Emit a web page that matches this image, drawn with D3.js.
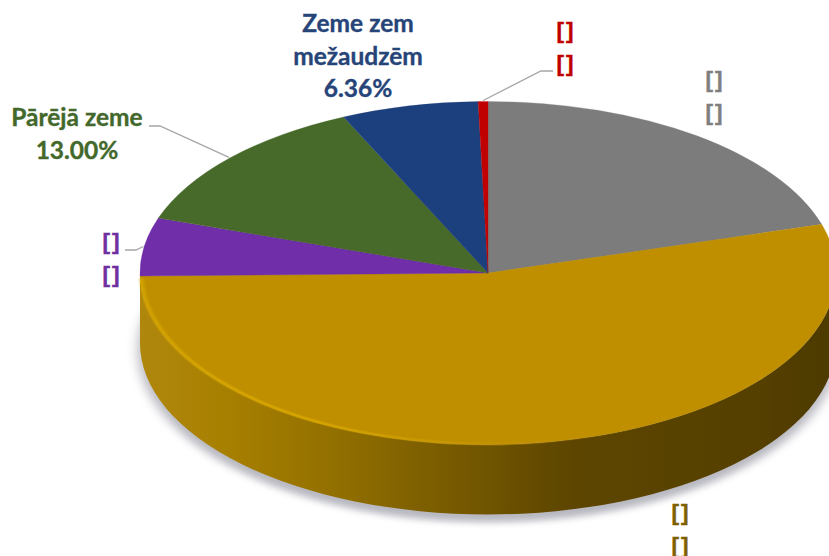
<!DOCTYPE html>
<html><head><meta charset="utf-8">
<script src="https://cdn.jsdelivr.net/npm/d3@7/dist/d3.min.js"></script>
<style>html,body{margin:0;padding:0;background:#fff;overflow:hidden}svg{display:block}text{font-family:Lato,"Open Sans",sans-serif;font-weight:700;font-size:24.5px;text-anchor:middle;stroke-width:.35px}text.br{font-family:"Liberation Sans",sans-serif;font-size:22.5px;stroke-width:.45px;letter-spacing:2px}</style>
</head><body><svg id="c" width="829" height="556"></svg>
<script>
const categories = ["[]", "[]", "[]", "Pārējā zeme", "Zeme zem mežaudzēm", "[]"];
const values = [20.42, 54.3, 5.47, 13.0, 6.36, 0.45];
const valueLabels = ["[]", "[]", "[]", "13.00%", "6.36%", "[]"];
const sliceColors = ["#7c7c7c", "#bf8f00", "#6f2da8", "#476b2a", "#1f3f7d", "#c00000"];
const textColors = ["#7f7f7f", "#7f6000", "#7030a0", "#43682b", "#264478", "#c00000"];

const cx = 488, cy = 273, rx = 348, ry = 171.5, depth = 70;
const svg = d3.select("#c"), defs = svg.append("defs");
const yS = ry / rx;

const blur = (id, s) => defs.append("filter").attr("id", id)
  .attr("x", "-10%").attr("y", "-10%").attr("width", "120%").attr("height", "130%")
  .append("feGaussianBlur").attr("stdDeviation", s);
blur("shadow", 6); blur("soft", 0.5); blur("glow", 1.6);

const hGrad = (id, stops) => {
  const g = defs.append("linearGradient").attr("id", id).attr("gradientUnits", "userSpaceOnUse")
    .attr("x1", -rx).attr("x2", rx).attr("y1", 0).attr("y2", 0);
  stops.forEach(([o, c, a]) => g.append("stop").attr("offset", o).attr("stop-color", c).attr("stop-opacity", a === undefined ? 1 : a));
};
hGrad("rim", [[0, "#b08707"], [0.12, "#a88006"], [0.3, "#8f6d01"], [0.45, "#775a00"], [0.62, "#5d4500"], [0.85, "#574100"], [1, "#4d3a00"]]);
hGrad("hl", [[0, "#d8a703"], [0.25, "#d6a403"], [0.45, "#cc9a02", 0.6], [0.62, "#c49300", 0.2], [0.75, "#bf8f00", 0]]);

const pie = d3.pie().sort(null).value(d => d)(values);
const arc = d3.arc().innerRadius(0).outerRadius(rx);
const root = svg.append("g").attr("transform", `translate(${cx},${cy}) scale(1,${yS})`);

const d = depth / yS;
const rimPath = () => {
  const p = d3.path();
  p.moveTo(-rx, 0); p.lineTo(-rx, d);
  p.arc(0, d, rx, Math.PI, 0, true);
  p.lineTo(rx, 0);
  p.arc(0, 0, rx, 0, Math.PI, false);
  p.closePath();
  return p.toString();
};
// soft shadow beneath the rim
const sh = d3.path(); sh.arc(0, d + 14, rx + 2, 0, 2 * Math.PI);
root.append("path").attr("d", sh.toString()).attr("fill", "#9a9aa6").attr("opacity", 0.7).attr("filter", "url(#shadow)");

const body = root.append("g").attr("filter", "url(#soft)");
body.append("path").attr("d", rimPath()).attr("fill", "url(#rim)");
body.selectAll("path.slice").data(pie).join("path").attr("class", "slice")
  .attr("d", arc).attr("fill", (s, i) => sliceColors[i]).attr("stroke", (s, i) => sliceColors[i]).attr("stroke-width", 0.4);

// highlight along the front edge of the top face
const hl = d3.path(); hl.arc(0, 0, rx - 1.5, Math.PI * 0.99, Math.PI * 0.2, true);
root.append("path").attr("d", hl.toString()).attr("fill", "none").attr("stroke", "url(#hl)")
  .attr("stroke-width", 3).attr("vector-effect", "non-scaling-stroke").attr("filter", "url(#glow)");

// labels: slice index, centre x, first baseline, text lines
const place = [
  { i: 0, x: 715, y: 87, lines: [categories[0], valueLabels[0]] },
  { i: 1, x: 681, y: 520, lines: [categories[1], valueLabels[1]] },
  { i: 2, x: 112, y: 249, lines: [categories[2], valueLabels[2]], elbow: [136, 250], end: [125, 250] },
  { i: 3, x: 77, y: 126, lines: [categories[3], valueLabels[3]], elbow: [160, 126], end: [149, 126] },
  { i: 4, x: 358, y: 32, lines: ["Zeme zem", "mežaudzēm", valueLabels[4]] },
  { i: 5, x: 566, y: 38, lines: [categories[5], valueLabels[5]], elbow: [541, 71], end: [553, 71] }
];

const leader = d3.line();
place.filter(l => l.elbow).forEach(l => {
  const a = (pie[l.i].startAngle + pie[l.i].endAngle) / 2;
  const tip = [cx + (rx + 1) * Math.sin(a), cy - (ry + 1) * Math.cos(a)];
  svg.append("path").attr("d", leader([tip, l.elbow, l.end])).attr("fill", "none")
    .attr("stroke", "#a6a6a6").attr("stroke-width", 1.3);
});
place.forEach(l => {
  const t = svg.append("text").attr("fill", textColors[l.i]).attr("stroke", textColors[l.i])
    .classed("br", l.lines[0] === "[]");
  l.lines.forEach((s, k) => t.append("tspan").attr("x", l.x).attr("y", l.y + k * 32.5).text(s));
});
</script></body></html>
